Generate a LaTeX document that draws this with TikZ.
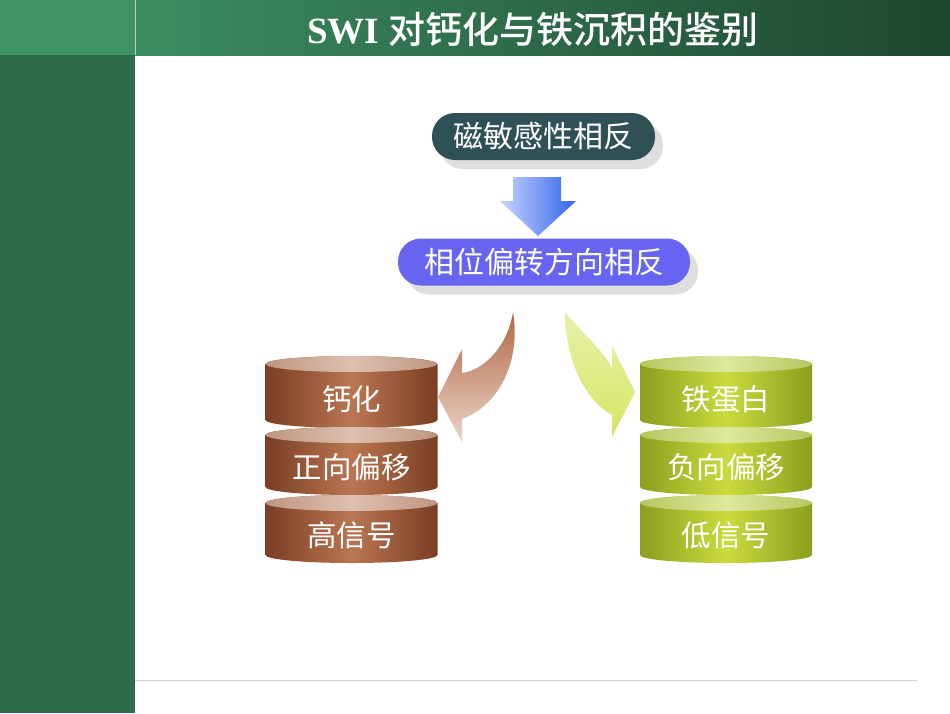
\documentclass[tikz,border=0pt]{standalone}
\usepackage{fontspec}
\setmainfont{Liberation Serif}
\newfontfamily\cjk{Noto Sans CJK SC}
\newfontfamily\cjkb{Noto Sans CJK SC Medium}
\usetikzlibrary{shadows}
\definecolor{hdrL}{RGB}{63,146,100}
\definecolor{hdrA}{RGB}{60,140,96}
\definecolor{hdrB}{RGB}{30,70,48}
\definecolor{colL}{RGB}{46,108,74}
\definecolor{boxA}{RGB}{47,80,85}
\definecolor{boxB}{RGB}{102,100,240}
\definecolor{arrL}{RGB}{200,212,255}
\definecolor{arrR}{RGB}{50,100,236}
\definecolor{brnside}{RGB}{122,62,35}
\definecolor{brnmid}{RGB}{186,118,82}
\definecolor{brntopside}{RGB}{190,150,128}
\definecolor{brntopmid}{RGB}{222,192,176}
\definecolor{grnside}{RGB}{140,158,30}
\definecolor{grnmid}{RGB}{202,219,62}
\definecolor{grntopside}{RGB}{184,198,96}
\definecolor{grntopmid}{RGB}{222,232,156}
\definecolor{cbrnA}{RGB}{176,104,70}
\definecolor{cbrnB}{RGB}{236,212,200}
\definecolor{cgrnA}{RGB}{232,240,170}
\definecolor{cgrnB}{RGB}{214,230,100}
\newcommand\mycyl[4]{%
  \shade[left color=#4side, right color=#4side, middle color=#4mid]
    (#1-86,#2) -- (#1-86,#3) arc[start angle=180,end angle=360,x radius=86pt,y radius=8pt]
    -- (#1+86,#2) arc[start angle=0,end angle=180,x radius=86pt,y radius=8pt] -- cycle;
  \shade[left color=#4topside, right color=#4topside, middle color=#4topmid]
    (#1,#2) ellipse[x radius=86pt, y radius=8pt];
}
\tikzset{
  pill/.style={rectangle, rounded corners=23pt, minimum height=47pt, text=white,
    font=\cjk\fontsize{30pt}{33pt}\selectfont, inner sep=0pt,
    drop shadow={shadow xshift=8pt, shadow yshift=-9pt, fill=black!13, opacity=1}},
  cyltext/.style={text=white, font=\cjk\fontsize{29.5pt}{32pt}\selectfont, inner sep=0pt}
}
\begin{document}
\begin{tikzpicture}[x=1pt,y=-1pt]
\useasboundingbox (0,0) rectangle (950,713);
\fill[white] (0,0) rectangle (950,713);
% header and side column
\fill[hdrL] (0,0) rectangle (135,55);
\shade[left color=hdrA, right color=hdrB] (135,0) rectangle (950,55);
\draw[white!60!hdrL, line width=0.8pt] (135,0) -- (135,55);
\fill[colL] (0,55) rectangle (135,713);
\node[text=white, font=\fontsize{37pt}{40pt}\selectfont, inner sep=0pt] (title) at (533,29) {\textbf{SWI} {\cjkb 对钙化与铁沉积的鉴别}};
% bottom rule
\draw[black!18, line width=1pt] (135,680) -- (917,680);
% boxes
\node[pill, fill=boxA, minimum width=223pt] (b1) at (543.5,136.5) {磁敏感性相反};
\node[pill, fill=boxB, minimum width=292pt] (b2) at (544,262) {相位偏转方向相反};
% down arrow
\shade[left color=arrL, right color=arrR]
  (513,177) -- (561,177) -- (561,201) -- (576,201) -- (538,236) -- (500,201) -- (513,201) -- cycle;
% curved arrows
\coordinate (la) at (513,312);
\coordinate (ra) at (565,312);
\shade[top color=cbrnA, bottom color=cbrnB]
  (la) .. controls (508,345) and (485,370) .. (462,373) -- (462,349) -- (438,397) -- (462,442) -- (462,419)
  .. controls (500,405) and (521,360) .. (la) -- cycle;
\shade[top color=cgrnA, bottom color=cgrnB]
  (ra) .. controls (582,333) and (603,350) .. (612,368) -- (612,346) -- (635,392) -- (612,437) -- (612,415)
  .. controls (585,400) and (565,360) .. (ra) -- cycle;
% cylinders
\mycyl{351.5}{364}{420}{brn}
\mycyl{351.5}{435}{487}{brn}
\mycyl{351.5}{503}{555}{brn}
\mycyl{726}{364}{420}{grn}
\mycyl{726}{435}{487}{grn}
\mycyl{726}{503}{555}{grn}
\node[cyltext] (l1) at (351.5,399) {钙化};
\node[cyltext] (l2) at (351.5,467) {正向偏移};
\node[cyltext] (l3) at (351.5,535) {高信号};
\node[cyltext] (r1) at (726,399) {铁蛋白};
\node[cyltext] (r2) at (726,467) {负向偏移};
\node[cyltext] (r3) at (726,535) {低信号};
\end{tikzpicture}
\end{document}
